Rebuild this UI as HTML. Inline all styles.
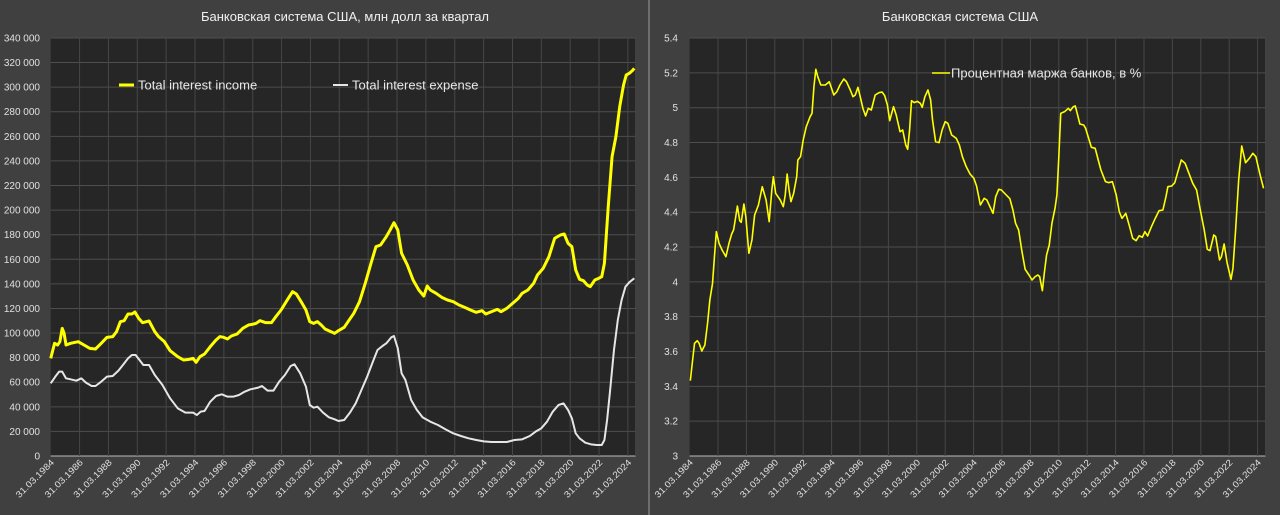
<!DOCTYPE html>
<html><head><meta charset="utf-8"><style>
body{margin:0;background:#404040;}
svg{display:block;font-family:"Liberation Sans","DejaVu Sans",sans-serif;}
</style></head><body>
<svg width="1280" height="515" viewBox="0 0 1280 515" xmlns="http://www.w3.org/2000/svg">
<rect width="1280" height="515" fill="#404040"/>
<line x1="649" y1="0" x2="649" y2="515" stroke="#9a9a9a" stroke-width="1"/>
<text x="345" y="21" fill="#f0f0f0" font-size="13" text-anchor="middle">Банковская система США, млн долл за квартал</text>
<text x="960" y="21" fill="#f0f0f0" font-size="13" text-anchor="middle">Банковская система США</text>
<rect x="50.7" y="38" width="585" height="418" fill="#262626"/>
<rect x="689.6" y="38" width="576" height="418" fill="#262626"/>
<g id="grid"></g>
<g transform="translate(40,30) scale(0.38265,0.33333)" fill="none" stroke-linejoin="round">
<polyline vector-effect="non-scaling-stroke" stroke="#ffff00" stroke-width="3" points="28,985 38,940 46,945 52,935 58,895 63,910 68,945 80,940 100,935 115,945 130,955 145,957 160,940 175,922 190,920 200,905 210,875 220,872 230,852 240,852 248,846 258,865 268,878 285,873 300,905 310,920 325,935 340,962 360,980 375,990 390,988 400,985 408,997 418,980 430,972 445,950 460,930 470,920 480,922 490,927 500,918 515,912 530,895 545,885 555,883 565,880 575,872 590,878 605,878 615,862 630,840 645,812 660,785 670,792 685,820 695,840 705,875 715,880 725,875 735,885 745,897 760,905 770,910 780,902 795,892 805,875 820,850 835,815 850,760 865,700 878,650 890,645 905,620 915,600 925,578 935,600 945,670 960,705 975,750 990,780 1003,798 1012,768 1020,780 1035,790 1050,802 1065,810 1080,815 1095,825 1110,832 1125,840 1140,847 1155,842 1165,852 1180,845 1195,838 1205,845 1220,835 1235,820 1250,805 1260,790 1275,780 1290,760 1300,735 1315,715 1330,680 1345,625 1360,615 1370,612 1380,640 1390,650 1400,720 1410,748 1420,752 1430,765 1438,770 1450,750 1460,745 1468,740 1475,700 1485,530 1495,380 1505,320 1515,230 1525,165 1532,135 1540,130 1548,122 1553,115"/>
<polyline vector-effect="non-scaling-stroke" stroke="#e6e6e6" stroke-width="2" points="28,1060 40,1040 50,1025 58,1025 68,1045 80,1048 95,1052 108,1045 120,1058 135,1068 145,1068 160,1055 175,1040 190,1038 205,1022 220,1000 230,985 240,975 250,975 260,990 270,1005 285,1005 300,1035 320,1065 340,1105 360,1135 380,1148 400,1148 410,1155 420,1145 430,1143 445,1115 460,1098 475,1093 490,1100 505,1100 520,1095 535,1085 550,1078 570,1073 580,1068 595,1082 610,1082 625,1055 640,1035 655,1008 665,1003 680,1030 695,1070 705,1125 715,1133 725,1130 740,1148 755,1162 770,1168 780,1173 795,1170 810,1148 825,1120 840,1080 855,1040 870,995 882,960 895,948 905,940 918,922 925,918 935,955 945,1030 955,1050 970,1110 985,1140 1000,1162 1020,1175 1040,1185 1060,1198 1080,1210 1100,1218 1120,1225 1140,1230 1160,1234 1180,1236 1200,1236 1220,1236 1240,1230 1260,1228 1280,1218 1295,1205 1310,1195 1325,1175 1340,1145 1355,1125 1368,1120 1380,1140 1390,1165 1400,1210 1410,1225 1425,1238 1440,1243 1455,1245 1468,1245 1475,1230 1482,1170 1490,1080 1500,960 1510,870 1520,810 1530,770 1540,757 1553,745"/>
</g>
<g transform="translate(680,30) scale(0.38265,0.33333)" fill="none" stroke-linejoin="round">
<polyline vector-effect="non-scaling-stroke" stroke="#ffff00" stroke-width="1.6" points="27,1052 32,1000 38,940 45,932 50,940 57,963 65,945 72,880 78,810 85,760 90,680 95,605 102,640 110,660 120,680 128,640 135,612 140,600 145,565 150,528 156,572 160,577 167,522 172,560 180,670 188,630 195,555 205,525 215,470 225,510 233,575 240,480 244,440 250,490 262,510 270,530 275,495 280,432 285,480 290,515 297,490 305,440 308,390 315,380 322,330 330,290 340,260 345,250 350,170 355,118 360,140 368,165 380,165 390,155 402,195 410,185 418,165 428,147 435,155 445,180 452,200 458,195 465,172 472,205 478,235 485,258 492,235 500,240 510,195 520,188 528,186 535,197 542,225 548,272 558,230 565,255 575,305 582,300 590,345 595,358 600,300 605,212 612,218 620,214 628,220 633,232 640,200 648,180 655,210 660,270 668,335 677,338 685,300 693,275 700,280 710,315 722,325 730,345 738,380 748,410 758,432 768,445 775,468 785,525 795,505 802,510 810,530 818,550 825,500 833,478 840,480 850,492 862,506 870,540 877,580 885,600 893,660 902,718 912,735 920,750 928,740 935,735 940,740 947,782 952,730 958,675 965,645 972,580 980,535 985,495 990,380 995,250 1005,245 1015,235 1020,242 1028,230 1033,228 1038,250 1045,282 1055,285 1060,295 1068,325 1075,352 1085,355 1093,390 1100,420 1112,455 1120,458 1130,455 1140,495 1148,545 1155,565 1165,550 1175,590 1183,625 1192,632 1200,617 1208,622 1215,605 1222,618 1232,590 1242,565 1252,542 1262,540 1270,500 1275,470 1285,468 1293,458 1300,430 1310,390 1320,400 1330,430 1340,460 1350,480 1358,530 1370,600 1378,658 1385,662 1395,615 1400,620 1410,690 1415,680 1422,642 1430,700 1440,748 1445,715 1452,600 1460,450 1468,348 1478,398 1488,385 1497,370 1505,380 1515,430 1525,475"/>
</g>
<line x1="119" y1="85" x2="134" y2="85" stroke="#ffff00" stroke-width="3"/>
<text x="138" y="89.5" fill="#e8e8e8" font-size="13">Total interest income</text>
<line x1="333" y1="85" x2="348" y2="85" stroke="#e6e6e6" stroke-width="2"/>
<text x="352" y="89.5" fill="#e8e8e8" font-size="13">Total interest expense</text>
<line x1="932" y1="73" x2="950" y2="73" stroke="#ffff00" stroke-width="1.6"/>
<text x="951" y="77.5" fill="#e8e8e8" font-size="13">Процентная маржа банков, в %</text>
<g id="labels" fill="#e0e0e0" font-size="10"></g>
<script>
var ns="http://www.w3.org/2000/svg",g=document.getElementById('grid'),L=document.getElementById('labels');
function ln(x1,y1,x2,y2,c){var e=document.createElementNS(ns,'line');e.setAttribute('x1',x1);e.setAttribute('y1',y1);e.setAttribute('x2',x2);e.setAttribute('y2',y2);e.setAttribute('stroke',c);e.setAttribute('stroke-width',1);g.appendChild(e);}
function tx(x,y,s,a,r){var e=document.createElementNS(ns,'text');e.setAttribute('x',x);e.setAttribute('y',y);e.setAttribute('text-anchor',a);if(r){e.setAttribute('transform','rotate(-45 '+x+' '+y+')');e.setAttribute('font-size','9');e.setAttribute('textLength','50');e.setAttribute('lengthAdjust','spacingAndGlyphs');}e.textContent=s;L.appendChild(e);}
for(var i=0;i<=17;i++){var y=456-i*24.59;ln(50.7,y,635.7,y,i==0?'#bbbbbb':'#4e4e4e');var v=i*20000;tx(40,y+3.5,v==0?'0':(Math.floor(v/1000)+' 000'),'end');}
for(var i=0;i<=12;i++){var y=456-i*34.83;ln(689.6,y,1265.6,y,i==0?'#bbbbbb':'#4e4e4e');tx(678,y+3.5,String(+(3+i*0.2).toFixed(1)),'end');}
for(var i=0;i<=20;i++){var x=50.7+i*28.86;if(i>0)ln(x,38,x,456,'#474747');tx(x+4,463,'31.03.'+(1984+2*i),'end',1);
var x2=689.6+i*28.4;if(i>0)ln(x2,38,x2,456,'#474747');tx(x2+4,463,'31.03.'+(1984+2*i),'end',1);}
ln(635.7,38,635.7,456,'#474747');ln(1265.6,38,1265.6,456,'#474747');
</script>
</svg>
</body></html>
